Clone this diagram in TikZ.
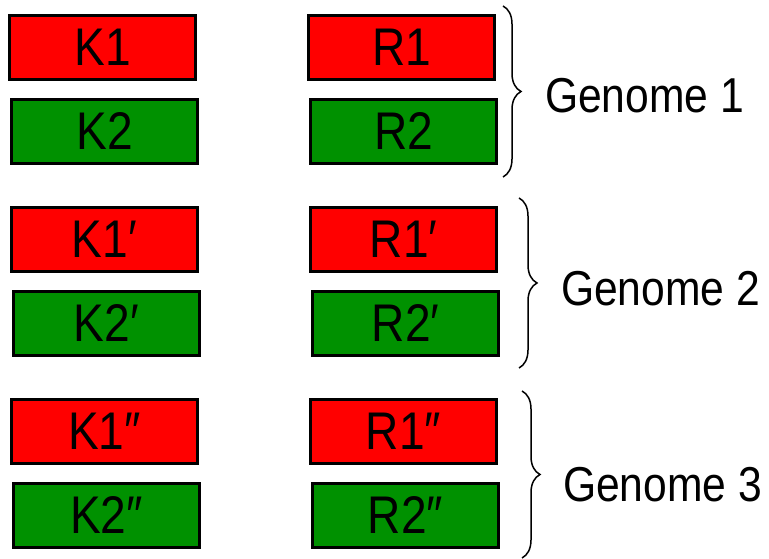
\documentclass[tikz,border=0pt]{standalone}
\usepackage{fontspec}
\setmainfont[FakeStretch=0.87]{Liberation Sans}
\usepackage{xcolor}
\usetikzlibrary{positioning, decorations.pathreplacing}
\definecolor{geneRed}{RGB}{255,0,0}
\definecolor{geneGreen}{RGB}{0,145,0}

\begin{document}
\begin{tikzpicture}[
    x=1pt, y=1pt,
    gene/.style={draw=black, line width=3pt, minimum width=186pt, minimum height=64pt,
        inner sep=0pt, font=\fontsize{53}{53}\selectfont},
    redgene/.style={gene, fill=geneRed},
    greengene/.style={gene, fill=geneGreen},
    genomebrace/.style={draw, line width=1.5pt, decorate, decoration={brace, amplitude=18pt}},
    genomelabel/.style={anchor=west, font=\fontsize{49}{49}\selectfont}
]
\useasboundingbox (0,0) rectangle (769,559);
\node[redgene] (k1) at (102.5,511.5) {K1};
\node[greengene, below=17pt of k1, xshift=2pt] (k2) {K2};
\node[redgene, below=41pt of k2] (k1p) {K1′};
\node[greengene, below=17pt of k1p, xshift=2pt] (k2p) {K2′};
\node[redgene, below=41pt of k2p, xshift=-2pt] (k1pp) {K1″};
\node[greengene, below=17pt of k1pp, xshift=2pt] (k2pp) {K2″};

\node[redgene, right=110pt of k1] (r1) {R1};
\node[greengene, right=110pt of k2] (r2) {R2};
\node[redgene, right=110pt of k1p] (r1p) {R1′};
\node[greengene, right=110pt of k2p] (r2p) {R2′};
\node[redgene, right=110pt of k1pp] (r1pp) {R1″};
\node[greengene, right=110pt of k2pp] (r2pp) {R2″};

\coordinate (g1top) at (503,553);
\coordinate (g1bot) at (503,382);
\coordinate (g2top) at (519,361);
\coordinate (g2bot) at (519,191);
\coordinate (g3top) at (522,168);
\coordinate (g3bot) at (522,1);
\draw[genomebrace] (g1top) -- (g1bot);
\draw[genomebrace] (g2top) -- (g2bot);
\draw[genomebrace] (g3top) -- (g3bot);

\node[genomelabel] (genome1) at (541.5,463.5) {Genome 1};
\node[genomelabel] (genome2) at (557.5,270) {Genome 2};
\node[genomelabel] (genome3) at (559.5,74) {Genome 3};
\end{tikzpicture}
\end{document}
